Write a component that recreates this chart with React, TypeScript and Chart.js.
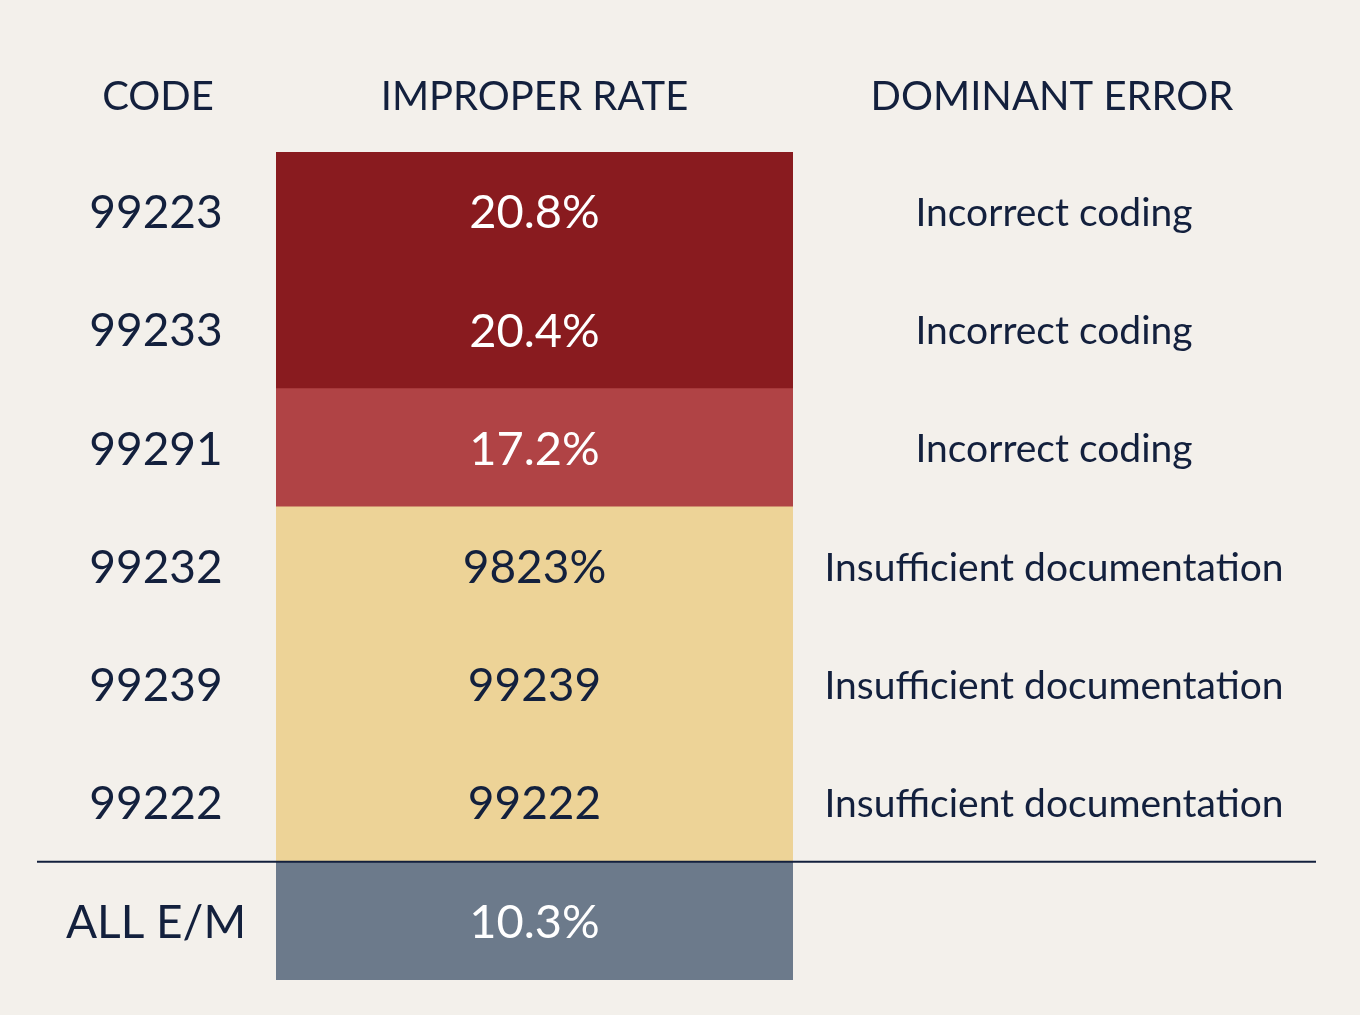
import React, { useEffect, useRef } from 'react';
import { Chart, registerables } from 'chart.js';

Chart.register(...registerables);

const codes = ['99223', '99233', '99291', '99232', '99239', '99222', 'ALL E/M'];
const rateLabels = ['20.8%', '20.4%', '17.2%', '9823%', '99239', '99222', '10.3%'];
const dominantErrors = [
  'Incorrect coding',
  'Incorrect coding',
  'Incorrect coding',
  'Insufficient documentation',
  'Insufficient documentation',
  'Insufficient documentation',
  '',
];
const tiers = ['high', 'high', 'mid', 'low', 'low', 'low', 'all'];
const headers = ['CODE', 'IMPROPER RATE', 'DOMINANT ERROR'];

const tierColors: Record<string, string> = {
  high: '#891b1f',
  mid: '#b04345',
  low: '#edd397',
  all: '#6c7a8b',
};

const NAVY = '#13203d';
const BG = '#f3f0eb';
const FONT = 'Lato, "Noto Sans", sans-serif';

const App: React.FC = () => {
  const canvasRef = useRef<HTMLCanvasElement>(null);
  const chartRef = useRef<Chart | null>(null);

  useEffect(() => {
    document.body.style.margin = '0';
    document.body.style.background = BG;
    if (!canvasRef.current) return;
    const ctx = canvasRef.current.getContext('2d');
    if (!ctx) return;

    if (chartRef.current) {
      chartRef.current.destroy();
      chartRef.current = null;
    }

    const tablePlugin = {
      id: 'tableText',
      beforeDraw(chart: Chart) {
        const c = chart.ctx;
        c.save();
        c.fillStyle = BG;
        c.fillRect(0, 0, chart.width, chart.height);
        c.restore();
      },
      afterDatasetsDraw(chart: Chart) {
        const c = chart.ctx;
        const y = chart.scales.y;
        const area = chart.chartArea;
        const midX = (area.left + area.right) / 2;
        const codeX = 156;
        const errX = 1054;
        c.save();
        c.textBaseline = 'middle';
        c.textAlign = 'center';

        // headers
        c.fillStyle = NAVY;
        c.font = `400 40px ${FONT}`;
        c.fillText(headers[0], 158, 97);
        c.fillText(headers[1], midX, 97);
        c.fillText(headers[2], 1052, 97);

        codes.forEach((code, i) => {
          const py = y.getPixelForValue(i);
          c.fillStyle = NAVY;
          c.font = `400 46px ${FONT}`;
          c.fillText(code, codeX, py + 2);

          const light = tiers[i] !== 'low';
          c.fillStyle = light ? '#ffffff' : NAVY;
          c.font = `400 ${light ? 47 : 46}px ${FONT}`;
          c.fillText(rateLabels[i], midX, py + 2);

          if (dominantErrors[i]) {
            c.fillStyle = NAVY;
            c.font = `400 39px ${FONT}`;
            c.fillText(dominantErrors[i], errX, py + 2);
          }
        });

        // separator above the summary row
        const sepY = (y.getPixelForValue(codes.length - 2) + y.getPixelForValue(codes.length - 1)) / 2;
        c.strokeStyle = NAVY;
        c.lineWidth = 2;
        c.beginPath();
        c.moveTo(37, sepY);
        c.lineTo(1316, sepY);
        c.stroke();
        c.restore();
      },
    };

    chartRef.current = new Chart(ctx, {
      type: 'bar',
      data: {
        labels: codes,
        datasets: [
          {
            data: codes.map(() => [0, 1]) as any,
            backgroundColor: tiers.map((t) => tierColors[t]),
            borderWidth: 0,
            barPercentage: 1,
            categoryPercentage: 1,
          },
        ],
      },
      options: {
        indexAxis: 'y',
        responsive: false,
        animation: false,
        devicePixelRatio: 1,
        layout: { padding: { left: 276, right: 567, top: 152, bottom: 35 } },
        scales: {
          x: { display: false, min: 0, max: 1 },
          y: { display: false },
        },
        plugins: {
          legend: { display: false },
          tooltip: { enabled: false },
        },
      },
      plugins: [tablePlugin],
    });

    return () => {
      if (chartRef.current) {
        chartRef.current.destroy();
        chartRef.current = null;
      }
    };
  }, []);

  return (
    <div style={{ width: 1360, height: 1015, background: BG }}>
      <canvas ref={canvasRef} width={1360} height={1015}></canvas>
    </div>
  );
};

export default App;
